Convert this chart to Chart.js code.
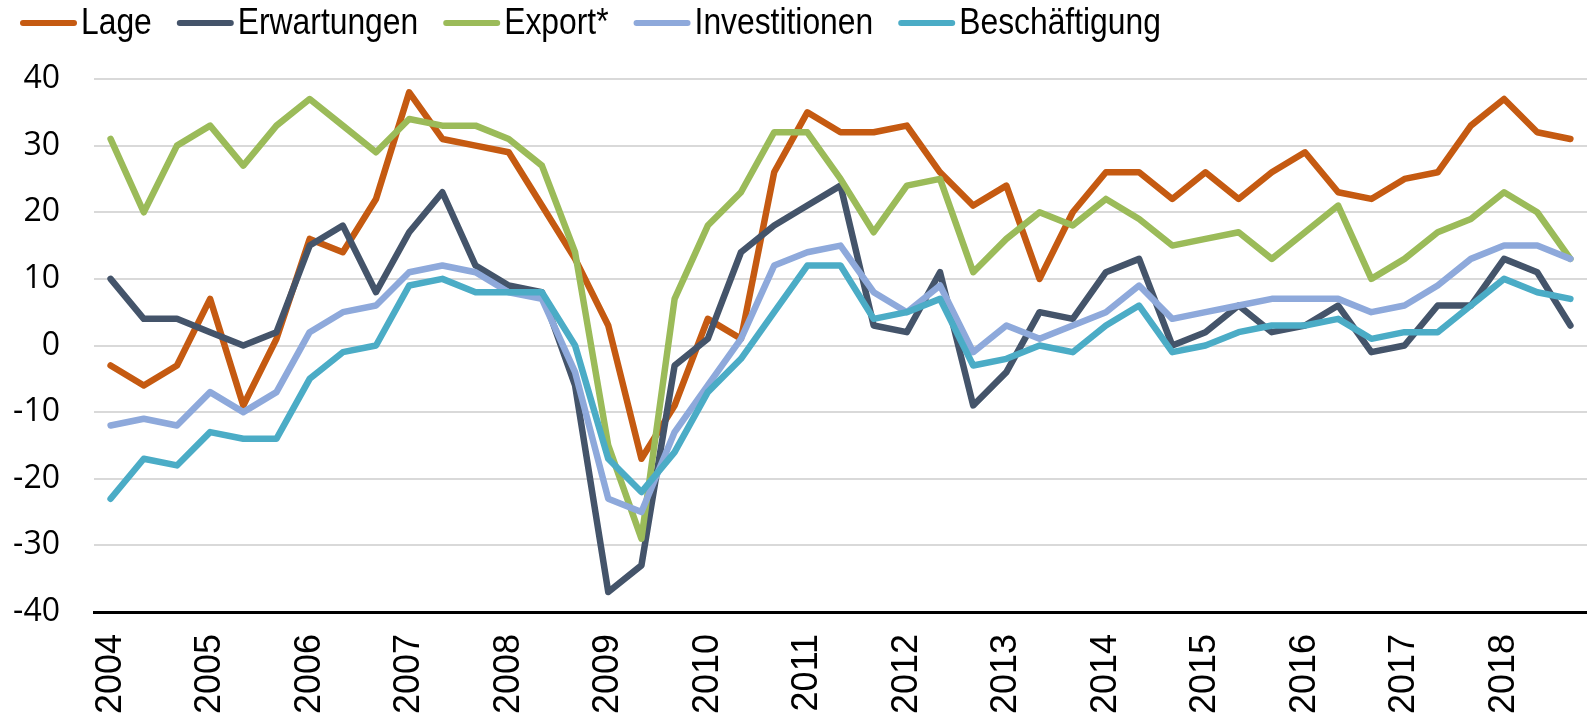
<!DOCTYPE html>
<html>
<head>
<meta charset="utf-8">
<script src="https://cdn.jsdelivr.net/npm/chart.js@4.4.0/dist/chart.umd.min.js"></script>
<style>
  html, body { margin: 0; padding: 0; background: #fff; }
  canvas { display: block; }
</style>
</head>
<body>
<canvas id="myChart" width="1587" height="713"></canvas>
<script>
// three survey waves per year, 2004 - 2018
const years = [2004, 2005, 2006, 2007, 2008, 2009, 2010, 2011, 2012, 2013, 2014, 2015, 2016, 2017, 2018];
const wavesPerYear = 3;

const seriesNames = ['Lage', 'Erwartungen', 'Export*', 'Investitionen', 'Beschäftigung'];
const seriesColors = ['#C55A11', '#44546A', '#9BBB59', '#8EA9DB', '#4BACC6'];

const lage = [-3, -6, -3, 7, -9, 1, 16, 14, 22, 38, 31, 30, 29, 21, 13, 3, -17, -9, 4, 1, 26, 35, 32, 32, 33, 26, 21, 24, 10, 20, 26, 26, 22, 26, 22, 26, 29, 23, 22, 25, 26, 33, 37, 32, 31];
const erwartungen = [10, 4, 4, 2, 0, 2, 15, 18, 8, 17, 23, 12, 9, 8, -6, -37, -33, -3, 1, 14, 18, 21, 24, 3, 2, 11, -9, -4, 5, 4, 11, 13, 0, 2, 6, 2, 3, 6, -1, 0, 6, 6, 13, 11, 3];
const exportVals = [31, 20, 30, 33, 27, 33, 37, 33, 29, 34, 33, 33, 31, 27, 14, -15, -29, 7, 18, 23, 32, 32, 25, 17, 24, 25, 11, 16, 20, 18, 22, 19, 15, 16, 17, 13, 17, 21, 10, 13, 17, 19, 23, 20, 13];
const investitionen = [-12, -11, -12, -7, -10, -7, 2, 5, 6, 11, 12, 11, 8, 7, -4, -23, -25, -13, -6, 1, 12, 14, 15, 8, 5, 9, -1, 3, 1, 3, 5, 9, 4, 5, 6, 7, 7, 7, 5, 6, 9, 13, 15, 15, 13];
const beschaeftigung = [-23, -17, -18, -13, -14, -14, -5, -1, 0, 9, 10, 8, 8, 8, 0, -17, -22, -16, -7, -2, 5, 12, 12, 4, 5, 7, -3, -2, 0, -1, 3, 6, -1, 0, 2, 3, 3, 4, 1, 2, 2, 6, 10, 8, 7];

const yMin = -40, yMax = 40, yStep = 10;

// category labels: year on the first wave, blank on the others
const labels = [];
for (let i in years) {
    for (let w = 0; w < wavesPerYear; w++) {
        labels.push(w === 0 ? String(years[i]) : '');
    }
}

const allSeries = [lage, erwartungen, exportVals, investitionen, beschaeftigung];

const datasets = allSeries.map((vals, i) => ({
    label: seriesNames[i],
    data: vals,
    borderColor: seriesColors[i],
    backgroundColor: seriesColors[i],
    borderWidth: 6.5,
    borderJoinStyle: 'round',
    borderCapStyle: 'round',
    pointRadius: 0,
    tension: 0,
    order: allSeries.length - i   // later series drawn on top
}));

// legend as in the original: short thick line, condensed label right next to it
const textSqueeze = 0.86;
const lineLegend = {
    id: 'lineLegend',
    afterDraw(chart) {
        const ctx = chart.ctx;
        let x = 20;
        ctx.save();
        ctx.font = '37px "Liberation Sans", Arial, sans-serif';
        ctx.textBaseline = 'alphabetic';
        chart.data.datasets.forEach(ds => {
            ctx.strokeStyle = ds.borderColor;
            ctx.lineWidth = 6;
            ctx.lineCap = 'round';
            ctx.beginPath();
            ctx.moveTo(x + 3, 23);
            ctx.lineTo(x + 54, 23);
            ctx.stroke();

            const tx = x + 61;
            ctx.save();
            ctx.translate(tx, 34);
            ctx.scale(textSqueeze, 1);
            ctx.fillStyle = '#000';
            ctx.fillText(ds.label, 0, 0);
            ctx.restore();

            x = tx + ctx.measureText(ds.label).width * textSqueeze + 25;
        });
        ctx.restore();
    }
};

var myChart = document.getElementById('myChart').getContext('2d');

new Chart(myChart, {
    type: 'line',
    data: {
        labels: labels,
        datasets: datasets
    },
    options: {
        responsive: false,
        animation: false,
        layout: {
            padding: { top: 79, right: 0, bottom: 0, left: 0 }
        },
        plugins: {
            legend: { display: false },
            tooltip: { enabled: false }
        },
        scales: {
            x: {
                offset: true,
                grid: { display: false, drawTicks: false },
                border: { display: true, color: '#000', width: 3 },
                ticks: {
                    autoSkip: false,
                    maxRotation: 90,
                    minRotation: 90,
                    padding: 22,
                    color: '#000',
                    font: { family: '"Liberation Sans", Arial, sans-serif', size: 36 }
                },
                afterFit: function (scale) {
                    scale.height = 101;
                    scale.paddingLeft = 0;
                    scale.paddingRight = 0;
                }
            },
            y: {
                min: yMin,
                max: yMax,
                ticks: {
                    stepSize: yStep,
                    padding: 34,
                    color: '#000',
                    font: { family: '"Open Sans", sans-serif', size: 32 }
                },
                grid: {
                    drawTicks: false,
                    lineWidth: 2,
                    color: ctx => ctx.tick && ctx.tick.value === yMin ? 'rgba(0,0,0,0)' : '#d9d9d9'
                },
                border: { display: false },
                afterFit: function (scale) { scale.width = 94; }
            }
        }
    },
    plugins: [lineLegend]
});
</script>
</body>
</html>
